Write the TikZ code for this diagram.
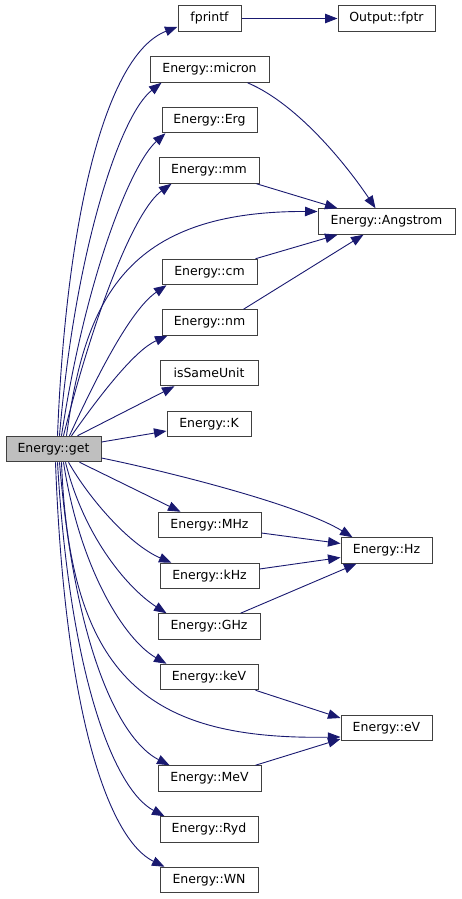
\documentclass[tikz,border=0pt]{standalone}
\usepackage{fontspec}
\setmainfont{DejaVu Sans}
\usetikzlibrary{arrows.meta}
\definecolor{edgec}{HTML}{191970}
\definecolor{boxc}{HTML}{404040}
\definecolor{getfill}{HTML}{BFBFBF}
\tikzset{
  fn/.style={draw=boxc, line width=1pt, fill=white, inner sep=0pt, minimum height=25.5pt, font=\fontsize{12.5}{14}\selectfont},
  call/.style={draw=edgec, line width=0.9pt, -{Triangle[length=12.5pt,width=9.5pt]}, fill=none},
}
\begin{document}
\begin{tikzpicture}[x=1pt,y=-1pt]
\useasboundingbox (0,0) rectangle (461,899);
% nodes
\node[fn, fill=getfill, minimum width=95pt] (get) at (53.5,449) {Energy::get};
\node[fn, minimum width=63pt] (fprintf) at (209.5,18.5) {fprintf};
\node[fn, minimum width=97pt] (fptr) at (386.5,18.5) {Output::fptr};
\node[fn, minimum width=119pt] (micron) at (209.5,69.5) {Energy::micron};
\node[fn, minimum width=95pt] (erg) at (209.5,120) {Energy::Erg};
\node[fn, minimum width=100pt] (mm) at (209,170.5) {Energy::mm};
\node[fn, minimum width=137pt] (ang) at (386.5,221.5) {Energy::Angstrom};
\node[fn, minimum width=95pt] (cm) at (209.5,272) {Energy::cm};
\node[fn, minimum width=95pt] (nm) at (209.5,322.5) {Energy::nm};
\node[fn, minimum width=98pt] (same) at (209,373) {isSameUnit};
\node[fn, minimum width=84pt] (k) at (209,424) {Energy::K};
\node[fn, minimum width=103pt] (mhz) at (209.5,525) {Energy::MHz};
\node[fn, minimum width=91pt] (hz) at (386.5,550.5) {Energy::Hz};
\node[fn, minimum width=99pt] (khz) at (209.5,576) {Energy::kHz};
\node[fn, minimum width=102pt] (ghz) at (209,626.5) {Energy::GHz};
\node[fn, minimum width=98pt] (kev) at (209,677) {Energy::keV};
\node[fn, minimum width=91pt] (ev) at (386.5,728) {Energy::eV};
\node[fn, minimum width=103pt] (mev) at (209.5,778.5) {Energy::MeV};
\node[fn, minimum width=98pt] (ryd) at (209,829.5) {Energy::Ryd};
\node[fn, minimum width=98pt] (wn) at (209,880) {Energy::WN};
% edges from get
\draw[call] ([xshift=4pt]get.north) .. controls (66,220) and (105,55) .. ([yshift=5pt]fprintf.south west);
\draw[call] ([xshift=6pt]get.north) .. controls (75,250) and (120,115) .. ([xshift=12pt]micron.south west);
\draw[call] ([xshift=8pt]get.north) .. controls (85,280) and (130,165) .. ([xshift=4pt]erg.south west);
\draw[call] ([xshift=10pt]get.north) .. controls (95,310) and (135,210) .. ([xshift=13pt]mm.south west);
\draw[call] ([xshift=13pt]get.north) .. controls (85,300) and (125,211) .. ([yshift=10pt]ang.west);
\draw[call] ([xshift=16pt]get.north) .. controls (95,380) and (130,310) .. ([xshift=5pt]cm.south west);
\draw[call] ([xshift=18pt]get.north) .. controls (100,395) and (135,350) .. ([xshift=6pt]nm.south west);
\draw[call] ([xshift=24pt]get.north) -- ([xshift=15pt]same.south west);
\draw[call] ([yshift=7pt]get.east) -- ([yshift=-7pt]k.west);
\draw[call] ([yshift=-9pt]get.east) .. controls (170,472) and (300,505) .. ([xshift=12pt]hz.north west);
\draw[call] ([xshift=26pt]get.south) -- ([xshift=23pt]mhz.north west);
\draw[call] ([xshift=15pt]get.south) .. controls (90,500) and (130,545) .. ([xshift=12pt]khz.north west);
\draw[call] ([xshift=12pt]get.south) .. controls (85,540) and (130,590) .. ([xshift=9pt]ghz.north west);
\draw[call] ([xshift=10pt]get.south) .. controls (80,570) and (125,640) .. ([xshift=7pt]kev.north west);
\draw[call] ([xshift=8pt]get.south) .. controls (70,680) and (150,740) .. ([yshift=-9pt]ev.west);
\draw[call] ([xshift=6pt]get.south) .. controls (75,650) and (120,740) .. ([xshift=12pt]mev.north west);
\draw[call] ([xshift=4pt]get.south) .. controls (70,680) and (115,790) .. ([xshift=5pt]ryd.north west);
\draw[call] ([xshift=2pt]get.south) .. controls (65,720) and (110,840) .. ([xshift=5pt]wn.north west);
% other edges
\draw[call] (fprintf.east) -- (fptr.west);
\draw[call] ([xshift=-22pt]micron.south east) .. controls (300,105) and (350,170) .. ([xshift=58pt]ang.north west);
\draw[call] ([xshift=-3pt]mm.south east) -- ([xshift=20pt]ang.north west);
\draw[call] ([xshift=-2pt]cm.north east) -- ([xshift=20pt]ang.south west);
\draw[call] ([xshift=-14pt]nm.north east) -- ([xshift=46pt]ang.south west);
\draw[call] ([yshift=-8pt]mhz.east) -- ([yshift=7pt]hz.west);
\draw[call] ([yshift=7pt]khz.east) -- ([yshift=-7pt]hz.west);
\draw[call] ([xshift=-20pt]ghz.north east) -- ([xshift=16pt]hz.south west);
\draw[call] ([xshift=-3pt]kev.south east) -- ([yshift=10pt]ev.west);
\draw[call] ([xshift=-6pt]mev.north east) -- ([yshift=-11pt]ev.west);
\end{tikzpicture}
\end{document}
